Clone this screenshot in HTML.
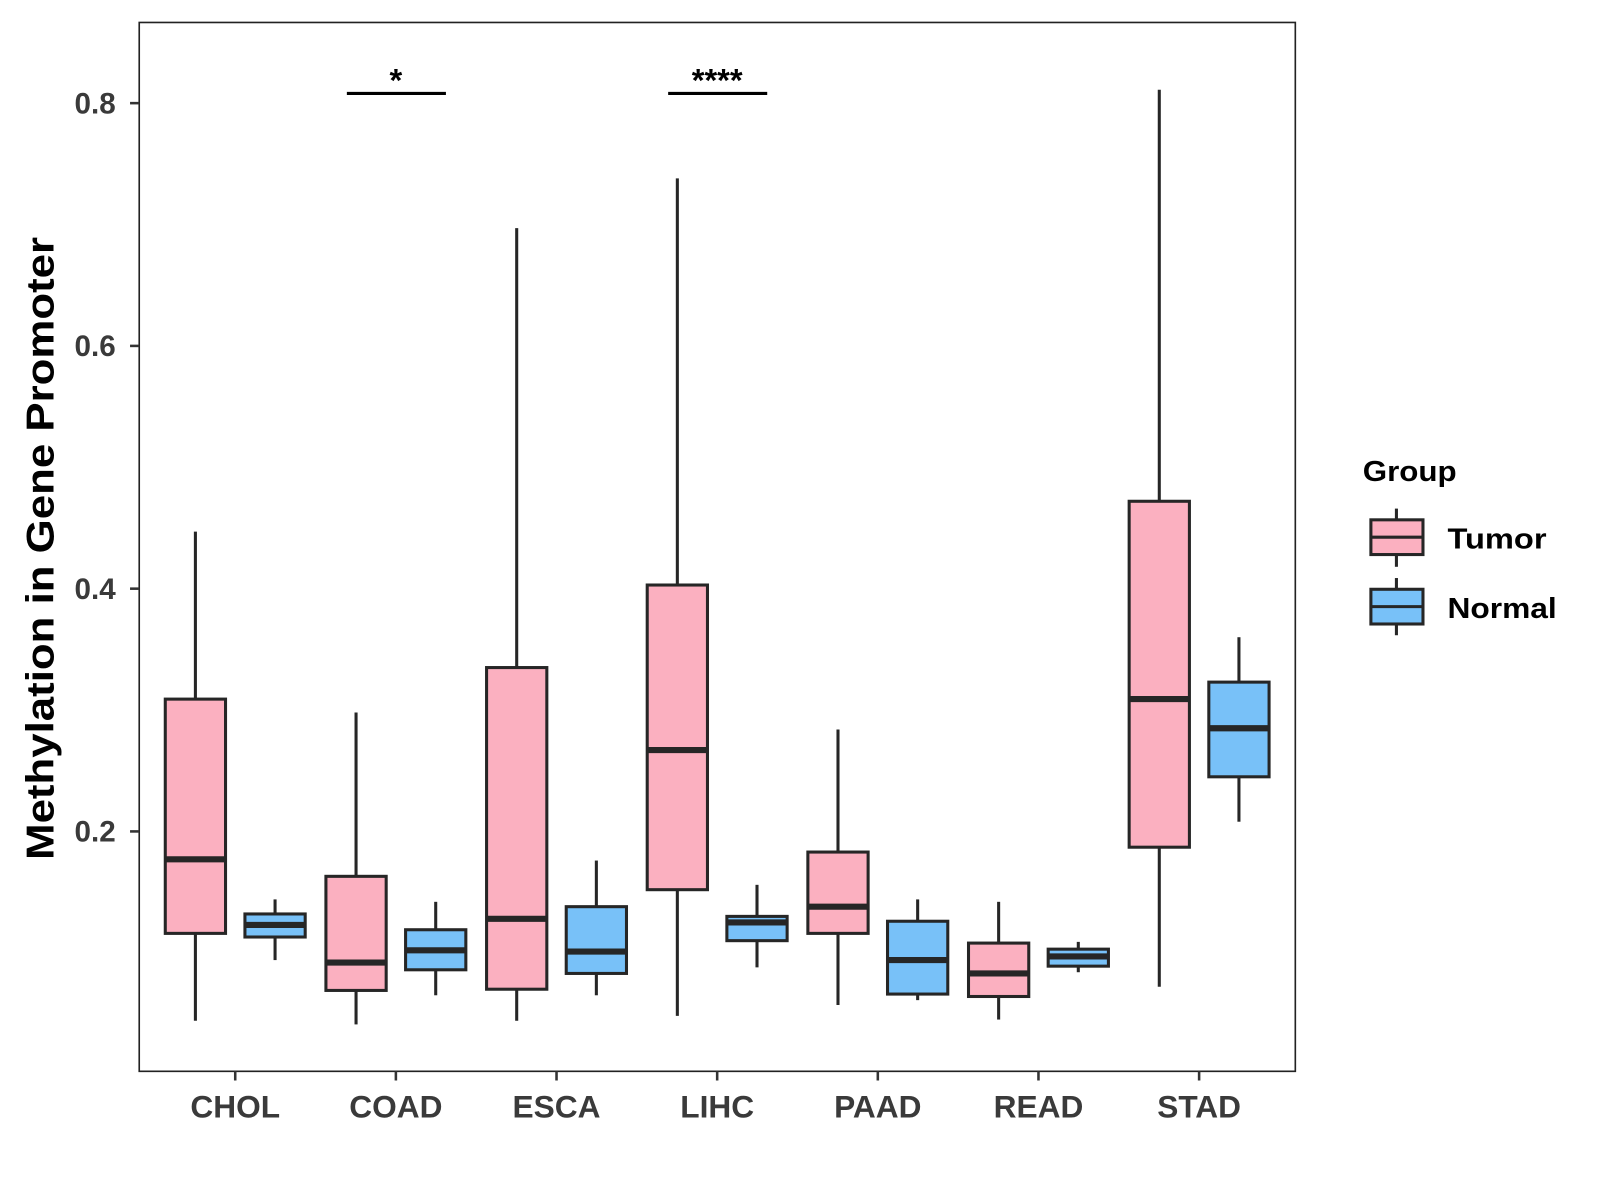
<!DOCTYPE html>
<html><head><meta charset="utf-8"><style>
html,body{margin:0;padding:0;background:#fff;}
svg{display:block;font-family:"Liberation Sans",sans-serif;}
</style></head><body>
<svg id="chart" width="1600" height="1200" viewBox="0 0 1566 1175" xmlns="http://www.w3.org/2000/svg">
<rect x="0" y="0" width="1566" height="1175" fill="#fff"/>
<rect x="136" y="22" width="1132" height="1027" fill="#fff" stroke="#222" stroke-width="1.6"/>
<g id="marks"></g>
<g id="axes"></g>
<text transform="translate(52,537) rotate(-90)" text-anchor="middle" font-size="38" font-weight="bold" fill="#000" textLength="610" lengthAdjust="spacingAndGlyphs">Methylation in Gene Promoter</text>
<g>
<text x="1334" y="471" font-size="28" font-weight="bold" fill="#000" textLength="92" lengthAdjust="spacingAndGlyphs">Group</text>
<g>
<line x1="1367" y1="498" x2="1367" y2="555" stroke="#262626" stroke-width="3"/>
<rect x="1342" y="509" width="51" height="34" fill="#FBB0C0" stroke="#262626" stroke-width="3"/>
<line x1="1342" y1="526" x2="1393" y2="526" stroke="#262626" stroke-width="3"/>
<text x="1417" y="537" font-size="28" font-weight="bold" fill="#000" textLength="97" lengthAdjust="spacingAndGlyphs">Tumor</text>
</g>
<g>
<line x1="1367" y1="566" x2="1367" y2="622" stroke="#262626" stroke-width="3"/>
<rect x="1342" y="577" width="51" height="34" fill="#78C1F8" stroke="#262626" stroke-width="3"/>
<line x1="1342" y1="594" x2="1393" y2="594" stroke="#262626" stroke-width="3"/>
<text x="1417" y="605" font-size="28" font-weight="bold" fill="#000" textLength="107" lengthAdjust="spacingAndGlyphs">Normal</text>
</g>
</g>
</svg>
<script>
const categories = ["CHOL","COAD","ESCA","LIHC","PAAD","READ","STAD"];
// [low, q1, median, q3, high]
const tumorStats = [
 [0.044,0.116,0.177,0.309,0.447],
 [0.041,0.069,0.092,0.163,0.298],
 [0.044,0.070,0.128,0.335,0.697],
 [0.048,0.152,0.267,0.403,0.738],
 [0.057,0.116,0.138,0.183,0.284],
 [0.045,0.064,0.083,0.108,0.142],
 [0.072,0.187,0.309,0.472,0.811]
];
const normalStats = [
 [0.094,0.113,0.123,0.132,0.144],
 [0.065,0.086,0.102,0.119,0.142],
 [0.065,0.083,0.101,0.138,0.176],
 [0.088,0.110,0.125,0.130,0.156],
 [0.061,0.066,0.094,0.126,0.144],
 [0.084,0.089,0.097,0.103,0.109],
 [0.208,0.245,0.285,0.323,0.360]
];
const yTicks = [0.2,0.4,0.6,0.8];
const yTickLabels = ["0.2","0.4","0.6","0.8"];
const sigCategories = ["COAD","LIHC"];
const sigLabels = ["*","****"];
const sigValue = 0.808;

const NS="http://www.w3.org/2000/svg";
function y(v){ return 101 + (0.8 - v) * 1188.5; }
function xc(i){ return 230 + i * 157.3; }
const dodge = 39, bw = 59;
function mk(tag, attrs, parent){ const e=document.createElementNS(NS,tag); for(const k in attrs) e.setAttribute(k,attrs[k]); parent.appendChild(e); return e; }
const marks=document.getElementById('marks'), axes=document.getElementById('axes');
function drawBox(s, cx, fill, name){
  const g=mk('g',{},marks);
  
  
  const st={stroke:'#262626','stroke-width':3};
  mk('line',Object.assign({x1:cx,x2:cx,y1:y(s[4]),y2:y(s[3])},st),g);
  mk('line',Object.assign({x1:cx,x2:cx,y1:y(s[1]),y2:y(s[0])},st),g);
  mk('rect',Object.assign({x:cx-bw/2,y:y(s[3]),width:bw,height:y(s[1])-y(s[3]),fill:fill},st),g);
  mk('line',{x1:cx-bw/2,x2:cx+bw/2,y1:y(s[2]),y2:y(s[2]),stroke:'#262626','stroke-width':6},g);
}
categories.forEach((c,i)=>{
  drawBox(tumorStats[i], xc(i)-dodge, '#FBB0C0', 'box-tumor-'+c.toLowerCase());
  drawBox(normalStats[i], xc(i)+dodge, '#78C1F8', 'box-normal-'+c.toLowerCase());
  mk('line',{x1:xc(i),x2:xc(i),y1:1049,y2:1058,stroke:'#333','stroke-width':2.5},axes);
  const t=mk('text',{x:xc(i),y:1094,'text-anchor':'middle','font-size':31,'font-weight':'bold',fill:'#3a3a3a'},axes);
  
  
  t.textContent=c;
});
yTicks.forEach((v,i)=>{
  mk('line',{x1:127,x2:136,y1:y(v),y2:y(v),stroke:'#333','stroke-width':2.5},axes);
  const t=mk('text',{x:113,y:y(v)+10,'text-anchor':'end','font-size':29,'font-weight':'bold',fill:'#3a3a3a'},axes);
  
  
  t.textContent=yTickLabels[i];
});
sigCategories.forEach((c,k)=>{
  const i=categories.indexOf(c);
  const g=mk('g',{},marks);
  
  
  mk('line',{x1:xc(i)-48,x2:xc(i)+49,y1:y(sigValue),y2:y(sigValue),stroke:'#000','stroke-width':3},g);
  const t=mk('text',{x:xc(i),y:y(sigValue)-2,'text-anchor':'middle','font-size':32,'font-weight':'bold',fill:'#000'},g);
  t.textContent=sigLabels[k];
});
</script>
</body></html>
